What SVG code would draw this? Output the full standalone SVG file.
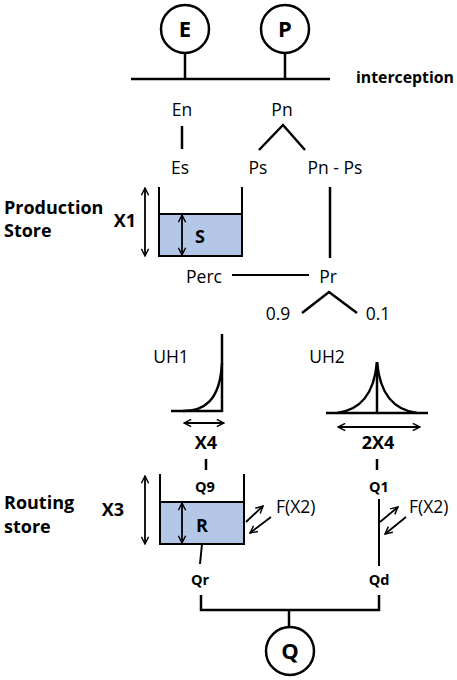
<svg xmlns="http://www.w3.org/2000/svg" width="457" height="680" viewBox="0 0 457 680">
<defs>
<marker id="ah" viewBox="0 0 10 10" refX="9" refY="5" markerWidth="9" markerHeight="9" markerUnits="userSpaceOnUse" orient="auto-start-reverse">
<path d="M1,1 L9,5 L1,9" fill="none" stroke="#000" stroke-width="1.6"/>
</marker>
</defs>
<style>
text{font-family:"Open Sans","Noto Sans","Liberation Sans",sans-serif;fill:#000}
.r{font-size:17.5px;text-anchor:middle}
.b{font-weight:bold;text-anchor:middle}
.lbl{font-weight:bold;font-size:18px}
.ln{stroke:#000;stroke-width:2.5;fill:none}
.th{stroke:#000;stroke-width:2;fill:none}
.ar{stroke:#000;stroke-width:1.8;fill:none;marker-start:url(#ah);marker-end:url(#ah)}
.a1{stroke:#000;stroke-width:1.8;fill:none;marker-end:url(#ah)}
.tank{fill:#b4c7e7;stroke:#000;stroke-width:2}
.circ{fill:#fff;stroke:#000;stroke-width:2.5}
</style>

<g id="connectors">
<line class="ln" x1="131" y1="79" x2="330" y2="79"/>
<line class="ln" x1="185" y1="53" x2="185" y2="79"/>
<line class="ln" x1="285" y1="53" x2="285" y2="79"/>
<line class="ln" x1="182" y1="126" x2="182" y2="149"/>
<polyline class="ln" points="259,150 283,125 305,150"/>
<line class="ln" x1="330" y1="187" x2="330" y2="258"/>
<line class="th" x1="232" y1="275" x2="309" y2="275"/>
<polyline class="ln" points="302,313 329,292 357,313"/>
<line class="ln" x1="206" y1="459" x2="206" y2="470"/>
<line class="ln" x1="377" y1="459" x2="377" y2="470"/>
<line class="th" x1="202" y1="544" x2="200" y2="564"/>
<line class="th" x1="379" y1="499" x2="379" y2="566"/>
<polyline class="ln" points="201,595 201,610 379,610 379,595"/>
<line class="ln" x1="289" y1="610" x2="289" y2="626"/>
</g>

<g id="node-E">
<circle class="circ" cx="185" cy="29" r="24"/>
<text class="b" x="185" y="37" font-size="22">E</text>
</g>
<g id="node-P">
<circle class="circ" cx="285" cy="29" r="24"/>
<text class="b" x="285" y="37" font-size="22">P</text>
</g>
<g id="label-interception">
<text x="356" y="83" font-size="15.8" font-weight="bold">interception</text>
</g>

<g id="node-En"><text class="r" x="182" y="116">En</text></g>
<g id="node-Pn"><text class="r" x="282" y="116">Pn</text></g>
<g id="node-Es"><text class="r" x="180" y="174">Es</text></g>
<g id="node-Ps"><text class="r" x="258" y="174">Ps</text></g>
<g id="node-PnPs"><text class="r" x="335" y="174" xml:space="preserve">Pn - Ps</text></g>

<g id="node-production-store">
<text class="lbl" x="4" y="214">Production</text>
<text class="lbl" x="4" y="237">Store</text>
<text class="b" x="125" y="227" font-size="18">X1</text>
<rect class="tank" x="159" y="214" width="83" height="42"/>
<polyline class="th" points="159,187 159,256 242,256 242,187"/>
<line class="ar" x1="145" y1="188" x2="145" y2="256"/>
<line class="ar" x1="182" y1="215" x2="182" y2="255"/>
<text class="b" x="200" y="243" font-size="18">S</text>
</g>

<g id="node-Perc"><text class="r" x="204" y="283">Perc</text></g>
<g id="node-Pr"><text class="r" x="328" y="283">Pr</text></g>
<g id="node-09"><text class="r" x="278" y="320">0.9</text></g>
<g id="node-01"><text class="r" x="378" y="320">0.1</text></g>

<g id="node-UH1">
<text class="r" x="171" y="363">UH1</text>
<line class="ln" x1="222" y1="334" x2="222" y2="412"/>
<line class="ln" x1="171" y1="411" x2="222" y2="411"/>
<path class="ln" d="M183,411 C203,411 220,402 222,363"/>
<line class="ar" x1="184" y1="423" x2="224" y2="423"/>
<text class="b" x="206" y="449" font-size="18">X4</text>
</g>

<g id="node-UH2">
<text class="r" x="327" y="363">UH2</text>
<line class="ln" x1="326" y1="413" x2="428" y2="413"/>
<line class="ln" x1="377" y1="362" x2="377" y2="413"/>
<path class="ln" d="M337,413 C360,410 374,395 377,362 C380,395 394,410 417,413"/>
<line class="ar" x1="338" y1="427" x2="420" y2="427"/>
<text class="b" x="378" y="449" font-size="18">2X4</text>
</g>

<g id="node-routing-store">
<text class="lbl" x="4" y="509">Routing</text>
<text class="lbl" x="4" y="533">store</text>
<text class="b" x="113" y="516" font-size="18">X3</text>
<rect class="tank" x="160" y="502" width="84" height="42"/>
<polyline class="th" points="160,474 160,544 244,544 244,474"/>
<line class="ar" x1="145" y1="476" x2="145" y2="544"/>
<line class="ar" x1="182" y1="503" x2="182" y2="543"/>
<text class="b" x="202" y="532" font-size="18">R</text>
<text class="b" x="205" y="492" font-size="14.5">Q9</text>
<line class="a1" x1="246" y1="522" x2="263" y2="506"/>
<line class="a1" x1="271" y1="517" x2="250" y2="533"/>
<text x="276" y="513" font-size="17.5">F(X2)</text>
</g>

<g id="node-Q1">
<text class="b" x="379" y="492" font-size="14.5">Q1</text>
<line class="a1" x1="380" y1="522" x2="398" y2="507"/>
<line class="a1" x1="406" y1="517" x2="385" y2="534"/>
<text x="409" y="513" font-size="17.5">F(X2)</text>
</g>

<g id="node-Qr"><text class="b" x="200" y="585" font-size="14.5">Qr</text></g>
<g id="node-Qd"><text class="b" x="379" y="585" font-size="14.5">Qd</text></g>

<g id="node-Q">
<circle class="circ" cx="290" cy="651" r="24"/>
<text class="b" x="290" y="659" font-size="22">Q</text>
</g>
</svg>
